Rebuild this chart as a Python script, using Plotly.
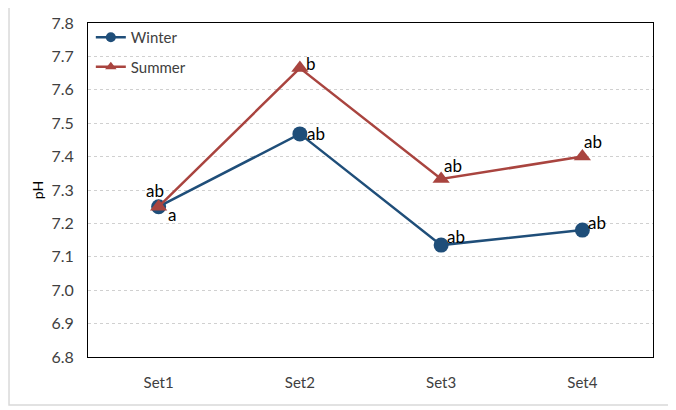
import plotly.graph_objects as go

categories = ["Set1", "Set2", "Set3", "Set4"]
winter = [7.25, 7.468, 7.135, 7.18]
summer = [7.25, 7.665, 7.333, 7.40]
winter_labels = ["ab", "ab", "ab", "ab"]
summer_labels = ["a", "b", "ab", "ab"]
y_ticks = [6.8, 6.9, 7.0, 7.1, 7.2, 7.3, 7.4, 7.5, 7.6, 7.7, 7.8]

BLUE = "#1f4e79"
RED = "#a9443f"
FONT = "Lato"

fig = go.Figure()
fig.add_trace(go.Scatter(x=categories, y=winter, name="Winter", mode="lines+markers",
                         line=dict(color=BLUE, width=2.5),
                         marker=dict(symbol="circle", size=15, color=BLUE),
                         showlegend=False))
fig.add_trace(go.Scatter(x=categories, y=summer, name="Summer", mode="lines+markers",
                         line=dict(color=RED, width=2.5),
                         marker=dict(symbol="triangle-up", size=15, color=RED),
                         showlegend=False))
# legend entries (smaller symbols, as in the reference legend)
fig.add_trace(go.Scatter(x=[None], y=[None], name="Winter", mode="lines+markers",
                         line=dict(color=BLUE, width=2.5),
                         marker=dict(symbol="circle", size=10, color=BLUE),
                         legendgroup="w", legendrank=1))
fig.add_trace(go.Scatter(x=[None], y=[None], name="Summer", mode="lines+markers",
                         line=dict(color=RED, width=2.5),
                         marker=dict(symbol="triangle-up", size=10, color=RED),
                         legendgroup="s", legendrank=2))

w_shift = [(-4, 16), (16, 0), (15, 9), (15, 8)]
s_shift = [(13, -8), (11, 5), (12, 13), (11, 15)]
for i, c in enumerate(categories):
    fig.add_annotation(x=c, y=winter[i], text=winter_labels[i], showarrow=False,
                       xshift=w_shift[i][0], yshift=w_shift[i][1],
                       font=dict(family=FONT, size=17, color="black"))
    fig.add_annotation(x=c, y=summer[i], text=summer_labels[i], showarrow=False,
                       xshift=s_shift[i][0], yshift=s_shift[i][1],
                       font=dict(family=FONT, size=17, color="black"))

# outer light frame
fig.add_shape(type="rect", xref="paper", yref="paper",
              x0=-0.1398, x1=1.030, y0=-0.1437, y1=1.048,
              line=dict(color="#d9d9d9", width=1.5), layer="below")

fig.update_layout(
    width=662, height=400,
    margin=dict(l=80, r=17, t=15, b=51, autoexpand=False),
    paper_bgcolor="white", plot_bgcolor="white",
    font=dict(family=FONT, size=14, color="#404040"),
    showlegend=True,
    legend=dict(x=0.005, y=1.006, xanchor="left", yanchor="top",
                bgcolor="rgba(0,0,0,0)", font=dict(family=FONT, size=15, color="#404040"),
                tracegroupgap=7, itemwidth=30),
    xaxis=dict(range=[-0.5, 3.5], showline=True, linecolor="black", linewidth=1, mirror=True,
               showgrid=False, ticks="", automargin=False, ticklabelstandoff=12,
               tickfont=dict(size=15, color="#404040")),
    yaxis=dict(range=[6.8, 7.8], tickvals=y_ticks, tickformat=".1f",
               showline=True, linecolor="black", linewidth=1, mirror=True,
               showgrid=True, gridcolor="#d0d0d0", griddash="dot", gridwidth=1,
               ticks="", zeroline=False, automargin=False, ticklabelstandoff=10,
               title=dict(text="pH", font=dict(size=14, color="black"), standoff=4),
               tickfont=dict(size=16, color="#404040")),
)

fig.write_html("out.html")
